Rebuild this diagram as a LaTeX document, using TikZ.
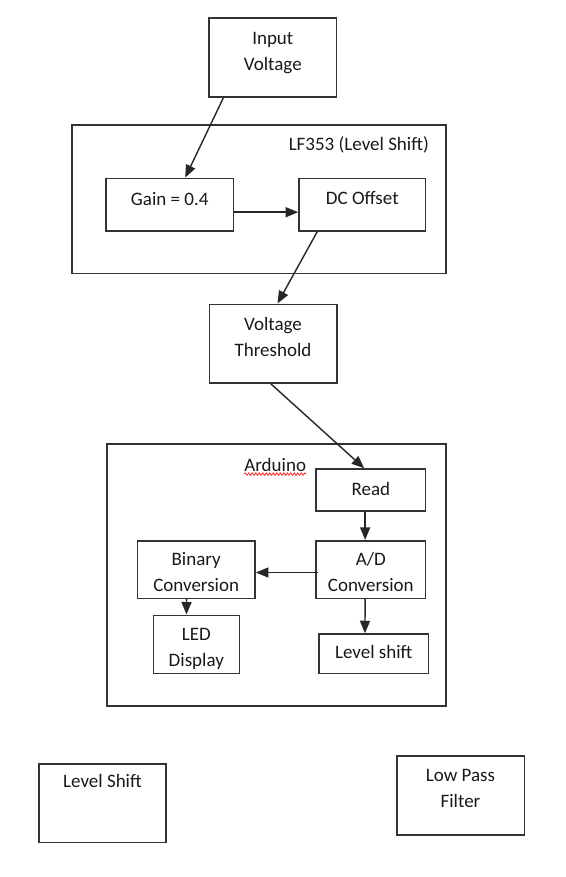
\documentclass[tikz,border=0pt]{standalone}
\usepackage{fontspec}
\setmainfont{Carlito}
\usetikzlibrary{arrows.meta,calc,decorations.pathmorphing}
\tikzset{
  block/.style={draw=black!80, line width=1.6pt, inner sep=0pt},
  txt/.style={anchor=north, align=center, inner sep=0pt, yshift=-#1,
    font=\fontsize{19}{26}\selectfont, text=black!90},
  txt/.default=14pt,
  flow/.style={line width=1.4pt, draw=black!85, -{Triangle[length=12.5pt,width=10pt]}},
  spell/.style={draw=red!85, line width=0.8pt, decorate,
    decoration={snake, amplitude=1.2pt, segment length=3.5pt}},
}

\begin{document}
\begin{tikzpicture}[x=1pt, y=-1pt]
		%%%%% START %%%%%
		\fill[white] (0, 0) rectangle (565, 877);
		\useasboundingbox (0, 0) rectangle (565, 877);
		
		% containers
		\node[block, minimum width=374pt, minimum height=148.3pt,
			label={[txt=12pt, anchor=north east, xshift=-18pt]north east:{LF353 (Level Shift)}}] (lf) at (259.2, 199.2) {};
		\node[block, minimum width=339pt, minimum height=262pt,
			label={[txt=15pt, xshift=-1pt, name=ardtxt]north:{Arduino}}] (ard) at (276.2, 575) {};
		\draw[spell] ([yshift=-2.5pt]ardtxt.base west) -- ([yshift=-2.5pt]ardtxt.base east);
		
		% signal chain
		\node[block, minimum width=127.5pt, minimum height=79.3pt, label={[txt=15pt]north:{Input\\Voltage}}] (inp) at (272.8, 57.6) {};
		\node[block, minimum width=127.3pt, minimum height=52.7pt, label={[txt=14.5pt]north:{Gain = 0.4}}] (gain) at (169.7, 204.7) {};
		\node[block, minimum width=126.7pt, minimum height=52.7pt, label={[txt=13.5pt]north:{DC Offset}}] (dc) at (362.3, 204.7) {};
		\node[block, minimum width=127.4pt, minimum height=78.4pt, label={[txt]north:{Voltage\\Threshold}}] (vt) at (273, 343.5) {};
		
		% inside the arduino
		\node[block, minimum width=109.7pt, minimum height=42pt, label={[txt]north:{Read}}] (read) at (370.8, 490) {};
		\node[block, minimum width=109.7pt, minimum height=57.6pt, label={[txt=12pt]north:{A/D\\Conversion}}] (ad) at (370.8, 569.5) {};
		\node[block, minimum width=117.7pt, minimum height=57.6pt, label={[txt=12.5pt]north:{Binary\\Conversion}}] (bin) at (196.2, 569.5) {};
		\node[block, minimum width=86pt, minimum height=58pt, label={[txt]north:{LED\\Display}}] (led) at (196.3, 644.3) {};
		\node[block, minimum width=109.3pt, minimum height=39.3pt, label={[txt=11.5pt]north:{Level shift}}] (lvs) at (373.7, 653.7) {};
		
		% loose blocks
		\node[block, minimum width=127pt, minimum height=78.3pt, label={[txt=11pt]north:{Level Shift}}] (lsh) at (102.5, 803.2) {};
		\node[block, minimum width=127.6pt, minimum height=79.3pt, label={[txt]north:{Low Pass\\Filter}}] (lpf) at (460.5, 795.4) {};
		
		% arrows
		\draw[flow] ([xshift=15pt]inp.south west) -- ([xshift=80pt]gain.north west);
		\draw[flow] ([yshift=-7.5pt]gain.east) -- ([yshift=-7.5pt]dc.west);
		\draw[flow] ([xshift=19pt]dc.south west) -- ([xshift=69pt]vt.north west);
		\draw[flow] ([xshift=62pt]vt.south west) -- ([xshift=49pt]read.north west);
		\draw[flow] ([xshift=50pt]read.south west) -- ([xshift=50pt]ad.north west);
		\draw[flow] ([xshift=3pt, yshift=-3pt]ad.west) -- ([yshift=-3pt]bin.east);
		\draw[flow] ([xshift=50pt]bin.south west) -- ([xshift=34pt]led.north west);
		\draw[flow] ([xshift=50pt]ad.south west) -- ([xshift=46.7pt]lvs.north west);
		%%%%% END %%%%%
\end{tikzpicture}
\end{document}
